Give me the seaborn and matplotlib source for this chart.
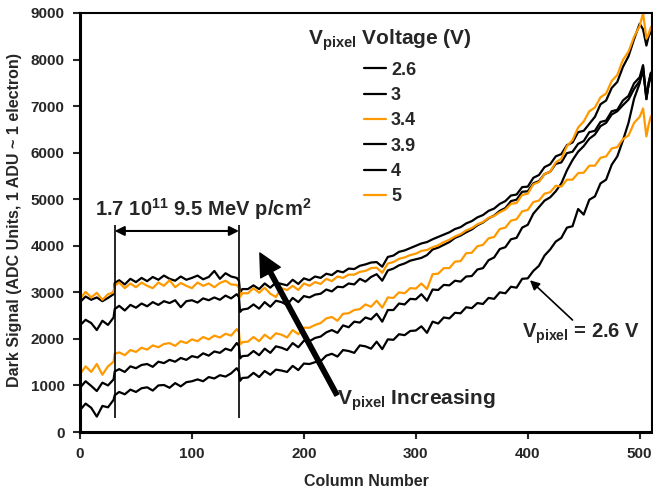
import matplotlib
matplotlib.use('Agg')
import matplotlib.pyplot as plt
from matplotlib.lines import Line2D
import pandas as pd
import seaborn as sns

cols = [0, 5, 10, 15, 20, 25, 30, 31, 35, 40, 45, 50, 55, 60, 65, 70, 75, 80, 85, 90,
        95, 100, 105, 110, 115, 120, 125, 130, 135, 140, 142, 143, 145, 150, 155, 160, 165, 170, 175, 180,
        185, 190, 195, 200, 205, 210, 215, 220, 225, 230, 235, 240, 245, 250, 255, 260, 265, 270, 275, 280,
        285, 290, 295, 300, 305, 310, 315, 320, 325, 330, 335, 340, 345, 350, 355, 360, 365, 370, 375, 380,
        385, 390, 395, 400, 405, 410, 415, 420, 425, 430, 435, 440, 445, 450, 455, 460, 465, 470, 475, 480,
        485, 490, 495, 500, 503, 506, 508, 510]

v26 = [470, 610, 520, 330, 560, 530, 690, 790, 860, 810,
       910, 860, 940, 960, 890, 1000, 1010, 950, 1050, 980,
       1070, 1090, 1130, 1090, 1180, 1150, 1220, 1190, 1260, 1370,
       1300, 1100, 1160, 1170, 1270, 1180, 1310, 1230, 1340, 1320,
       1290, 1420, 1330, 1470, 1460, 1500, 1520, 1640, 1680, 1620,
       1760, 1740, 1700, 1860, 1840, 1790, 1940, 1780, 1990, 1980,
       2100, 2080, 2170, 2180, 2270, 2130, 2370, 2330, 2460, 2440,
       2560, 2550, 2680, 2660, 2770, 2750, 2880, 2860, 3000, 2980,
       3120, 3100, 3290, 3300, 3460, 3570, 3790, 3920, 4090, 4170,
       4390, 4420, 4790, 4670, 4990, 5060, 5340, 5420, 5740, 5920,
       6260, 6640, 7160, 7490, 7850, 7150, 7500, 7700]

v30 = [950, 1090, 990, 880, 1060, 1000, 1130, 1300, 1350, 1290,
       1410, 1370, 1440, 1460, 1400, 1510, 1480, 1550, 1510, 1590,
       1550, 1630, 1600, 1690, 1640, 1730, 1700, 1790, 1750, 1910,
       1850, 1580, 1630, 1640, 1740, 1650, 1790, 1700, 1840, 1810,
       1760, 1910, 1820, 1960, 1950, 2020, 2050, 2140, 2190, 2130,
       2290, 2250, 2370, 2350, 2460, 2420, 2540, 2370, 2620, 2620,
       2760, 2740, 2860, 2850, 2960, 2820, 3060, 3050, 3160, 3150,
       3250, 3230, 3340, 3350, 3490, 3520, 3690, 3750, 3930, 3970,
       4140, 4170, 4390, 4450, 4690, 4830, 4970, 5040, 5170, 5340,
       5620, 5840, 6020, 6140, 6300, 6390, 6570, 6640, 6820, 6890,
       7020, 7140, 7370, 7540, 7750, 7200, 7450, 7650]

v34 = [1240, 1410, 1290, 1460, 1230, 1410, 1510, 1680, 1710, 1650,
       1760, 1720, 1810, 1770, 1860, 1820, 1890, 1910, 1850, 1950,
       1910, 1990, 1950, 2040, 1990, 2070, 2030, 2110, 2070, 2210,
       2150, 1880, 1930, 1940, 2040, 1950, 2090, 2000, 2120, 2090,
       2030, 2190, 2100, 2240, 2240, 2300, 2340, 2440, 2470, 2390,
       2540, 2550, 2620, 2640, 2740, 2690, 2820, 2670, 2890, 2880,
       3000, 2980, 3090, 3080, 3190, 3070, 3390, 3400, 3520, 3520,
       3660, 3670, 3840, 3850, 3990, 4020, 4160, 4190, 4360, 4390,
       4540, 4570, 4740, 4770, 4940, 4970, 5120, 5150, 5290, 5270,
       5420, 5420, 5560, 5570, 5720, 5720, 5890, 5920, 6090, 6120,
       6290, 6370, 6640, 6770, 6950, 6350, 6600, 6780]

v39 = [2290, 2410, 2340, 2190, 2390, 2300, 2460, 2640, 2710, 2610,
       2730, 2670, 2760, 2700, 2790, 2730, 2810, 2770, 2830, 2680,
       2810, 2830, 2780, 2870, 2830, 2890, 2840, 2930, 2870, 2960,
       2900, 2580, 2630, 2650, 2740, 2650, 2790, 2690, 2820, 2790,
       2730, 2880, 2790, 2920, 2890, 2950, 2970, 3060, 3020, 3120,
       3110, 3190, 3170, 3290, 3230, 3330, 3390, 3250, 3470, 3510,
       3580, 3620, 3680, 3710, 3740, 3800, 3920, 3960, 4020, 4080,
       4170, 4220, 4290, 4350, 4440, 4500, 4590, 4650, 4750, 4810,
       4960, 4990, 5160, 5170, 5340, 5390, 5540, 5590, 5760, 5790,
       5990, 6020, 6190, 6250, 6440, 6470, 6660, 6690, 6890, 6920,
       7120, 7220, 7490, 7620, 7880, 7150, 7500, 7720]

v40 = [2790, 2910, 2840, 2890, 2810, 2880, 2960, 3200, 3260, 3170,
       3290, 3220, 3310, 3240, 3330, 3270, 3360, 3290, 3250, 3340,
       3270, 3310, 3360, 3280, 3330, 3460, 3290, 3410, 3340, 3310,
       3250, 3000, 3070, 3070, 3150, 3070, 3190, 3100, 3210, 3180,
       3150, 3270, 3180, 3300, 3260, 3340, 3310, 3400, 3370, 3460,
       3430, 3510, 3500, 3570, 3600, 3640, 3650, 3550, 3760, 3790,
       3870, 3900, 3950, 4000, 4050, 4080, 4140, 4190, 4240, 4290,
       4360, 4400, 4480, 4530, 4610, 4660, 4750, 4800, 4900, 4960,
       5080, 5100, 5260, 5270, 5460, 5520, 5690, 5750, 5920, 5970,
       6160, 6220, 6440, 6470, 6620, 6770, 7040, 7120, 7390, 7520,
       7840, 8070, 8440, 8770, 8650, 8300, 8500, 8600]

v50 = [2860, 3010, 2890, 2990, 2840, 2960, 3000, 3150, 3210, 3090,
       3190, 3110, 3210, 3140, 3090, 3210, 3140, 3260, 3110, 3200,
       3140, 3090, 3210, 3140, 3190, 3110, 3200, 3250, 3170, 3160,
       3100, 2900, 2980, 2980, 3090, 2990, 3100, 2970, 2900, 3090,
       3050, 3140, 3050, 3190, 3140, 3220, 3180, 3290, 3240, 3340,
       3310, 3380, 3380, 3440, 3460, 3520, 3530, 3420, 3620, 3650,
       3720, 3750, 3800, 3830, 3890, 3910, 3970, 4010, 4080, 4130,
       4200, 4250, 4330, 4380, 4460, 4510, 4600, 4640, 4720, 4780,
       4900, 4920, 5090, 5120, 5320, 5370, 5540, 5590, 5790, 5870,
       6140, 6270, 6540, 6670, 6890, 6970, 7190, 7270, 7540, 7670,
       7990, 8170, 8490, 8720, 9000, 8450, 8550, 8700]

voltages = ['2.6', '3', '3.4', '3.9', '4', '5']
series = [v26, v30, v34, v39, v40, v50]
colors = ['#000000', '#000000', '#FF9900', '#000000', '#000000', '#FF9900']
xticks = [0, 100, 200, 300, 400, 500]
yticks = [0, 1000, 2000, 3000, 4000, 5000, 6000, 7000, 8000, 9000]
band = [31, 142]

sns.set_style('ticks')
plt.rcParams['font.family'] = ['Liberation Sans', 'DejaVu Sans']
plt.rcParams['font.weight'] = 'bold'
plt.rcParams['mathtext.fontset'] = 'custom'
plt.rcParams['mathtext.rm'] = 'Liberation Sans:bold'
plt.rcParams['mathtext.bf'] = 'Liberation Sans:bold'
plt.rcParams['mathtext.it'] = 'Liberation Sans:bold'

df = pd.concat([pd.DataFrame({'col': cols, 'signal': s, 'V': v})
                for s, v in zip(series, voltages)], ignore_index=True)

fig = plt.figure(figsize=(6.53, 4.98), dpi=100)
ax = fig.add_axes([80 / 653, 66 / 498, 572 / 653, 419 / 498])
sns.lineplot(data=df, x='col', y='signal', hue='V', hue_order=voltages,
             palette=colors, linewidth=1.6, estimator=None, sort=False,
             legend=False, ax=ax)

ax.set_xlim(0, 511)
ax.set_ylim(0, 9000)
ax.set_xticks(xticks)
ax.set_yticks(yticks)
ax.tick_params(direction='out', length=5, width=1.5, labelsize=11, pad=6)
for lab in ax.get_xticklabels() + ax.get_yticklabels():
    lab.set_fontweight('bold')
for side in ['left', 'bottom']:
    ax.spines[side].set_linewidth(2.2)
for side in ['top', 'right']:
    ax.spines[side].set_linewidth(1.5)
for sp in ax.spines.values():
    sp.set_color('black')

ax.set_xlabel('Column Number', fontsize=11.5, fontweight='bold')
ax.set_ylabel('Dark Signal (ADC Units, 1 ADU ~ 1 electron)', fontsize=11.5, fontweight='bold')
ax.xaxis.set_label_coords(0.5, -0.1)
ax.yaxis.set_label_coords(-0.101, 0.505)

# legend
handles = [Line2D([], [], color=c, lw=1.6) for c in colors]
leg = ax.legend(handles, voltages, title=r'$\mathbf{V_{pixel}}$ Voltage (V)',
                loc='upper center', bbox_to_anchor=(0.542, 0.986), frameon=False,
                fontsize=13, title_fontproperties={'size': 15, 'weight': 'bold'},
                handlelength=1.2, handletextpad=0.3, labelspacing=0.46, borderpad=0)
for t in leg.get_texts():
    t.set_fontweight('bold')

# irradiated band
ax.vlines(band, 300, 4450, colors='black', linewidth=1.2)
ax.annotate('', xy=(band[0], 4318), xytext=(band[1], 4318),
            arrowprops=dict(arrowstyle='<|-|>', color='black', lw=1.5,
                            mutation_scale=14, shrinkA=0, shrinkB=0))
ax.text(13.4, 4640, r'$\mathbf{1.7\ 10^{11}\ 9.5\ MeV\ p/cm^{2}}$', fontsize=14.5,
        ha='left', va='baseline')

# big arrow
ax.annotate('', xy=(160.7, 3845), xytext=(229.5, 795),
            arrowprops=dict(width=3.2, headwidth=16, headlength=16, color='black', shrink=0))
ax.text(230, 580, r'$\mathbf{V_{pixel}}$ Increasing', fontsize=15, fontweight='bold',
        ha='left', va='baseline')

# 2.6 V label
ax.annotate('', xy=(402, 3260), xytext=(440, 2405),
            arrowprops=dict(arrowstyle='-|>', color='black', lw=1.2, mutation_scale=14,
                            shrinkA=0, shrinkB=0))
ax.text(394.6, 2019, r'$\mathbf{V_{pixel}}$ = 2.6 V', fontsize=14.5, fontweight='bold',
        ha='left', va='baseline')

fig.savefig('out.png', dpi=100)
